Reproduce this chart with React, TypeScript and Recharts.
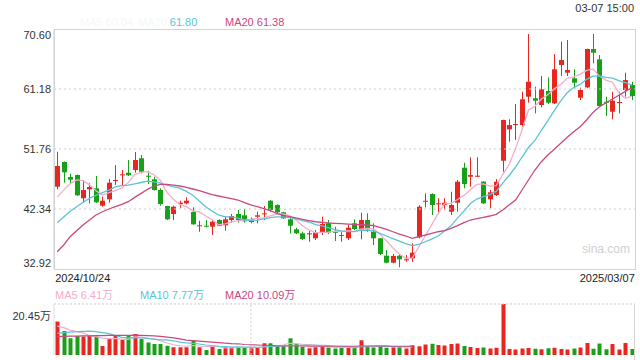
import React from "react";
import { ComposedChart, Bar, Line, XAxis, YAxis, ReferenceLine } from "recharts";

const RED = "#e8261f";
const GREEN = "#18a018";
const C_MA5 = "#f4abcd";
const C_MA10 = "#5cc3d7";
const C_MA20 = "#c9487f";
const FONT = "'Liberation Sans', Arial, 'Noto Sans CJK SC', sans-serif";

const priceTicks = [32.92, 42.34, 51.76, 61.18, 70.6];
const volTicks = [0, 20.45];
const xLabels = ["2024/10/24", "2025/03/07"];

const opens = [
  45.84, 49.72, 47.36, 47.67, 44.02, 45.43, 45.59, 42.86, 43.86, 46.73,
  47.67, 48.04, 48.46, 50.3, 47.57, 47.0, 45.32, 42.81, 41.55, 43.12,
  43.23, 41.87, 39.62, 39.71, 39.56, 40.61, 39.78, 40.61, 41.55, 41.35,
  40.3, 41.13, 41.5, 43.64, 42.97, 41.82, 40.72, 39.15, 38.52, 38.36,
  37.74, 38.68, 40.09, 38.77, 38.25, 37.74, 40.09, 39.15, 40.61, 38.77,
  37.74, 35.01, 33.91, 35.01, 34.28, 34.6, 37.89, 43.55, 44.69, 43.12,
  42.99, 41.91, 43.33, 48.82, 47.41, 47.41, 46.63, 43.86, 44.54, 49.92,
  54.85, 55.52, 55.52, 59.97, 59.72, 58.67, 60.86, 58.93, 64.95, 63.74,
  62.86, 59.81, 61.44, 67.46, 65.84, 59.18, 57.61, 58.98, 61.02, 61.8,
];
const closes = [
  49.09, 48.1, 46.94, 44.49, 45.32, 45.79, 43.39, 43.64, 46.47, 46.89,
  47.78, 47.63, 50.03, 48.19, 47.41, 45.32, 43.12, 40.72, 42.7, 43.33,
  43.64, 39.93, 39.78, 39.56, 40.34, 39.71, 40.72, 41.24, 40.61, 40.41,
  40.72, 41.35, 41.66, 42.18, 41.82, 40.88, 39.71, 38.52, 37.63, 38.52,
  38.68, 39.98, 38.62, 38.62, 38.1, 39.4, 39.2, 40.61, 39.15, 37.74,
  35.27, 33.91, 34.96, 34.44, 34.44, 35.48, 42.7, 43.64, 42.97, 43.23,
  43.33, 42.97, 46.63, 46.26, 47.67, 47.57, 43.23, 44.96, 46.63, 56.31,
  55.52, 55.68, 59.56, 62.32, 59.34, 61.13, 59.03, 64.27, 65.73, 64.16,
  62.17, 61.02, 67.46, 66.88, 58.51, 59.03, 59.34, 59.14, 62.59, 60.08,
];
const highs = [
  51.33, 49.8, 47.88, 47.75, 46.89, 46.37, 47.52, 44.27, 47.05, 49.24,
  48.46, 50.03, 51.29, 50.81, 48.35, 47.41, 45.59, 42.85, 42.86, 43.64,
  44.17, 42.6, 40.5, 40.61, 40.61, 40.72, 41.24, 41.55, 42.18, 42.34,
  41.03, 41.91, 42.81, 43.75, 43.07, 41.91, 41.13, 39.4, 38.77, 38.88,
  39.04, 41.13, 40.61, 39.56, 38.77, 39.83, 40.72, 41.76, 41.66, 40.09,
  37.8, 35.9, 35.27, 35.27, 35.12, 36.95, 42.97, 44.8, 44.8, 44.02,
  44.02, 45.05, 46.89, 49.61, 50.45, 50.45, 46.7, 45.32, 47.05, 56.35,
  56.42, 58.82, 60.75, 69.81, 61.54, 63.22, 63.01, 66.67, 68.6, 68.87,
  64.27, 61.38, 67.5, 69.81, 66.52, 59.97, 60.75, 60.75, 63.74, 62.32,
];
const lows = [
  45.43, 46.47, 46.37, 44.4, 43.33, 43.23, 43.3, 42.7, 43.33, 46.1,
  45.95, 47.52, 48.04, 47.94, 46.26, 45.25, 42.86, 40.61, 40.61, 42.54,
  43.07, 39.88, 38.77, 39.46, 38.25, 39.65, 38.93, 40.19, 40.19, 40.19,
  40.09, 40.09, 40.61, 41.91, 41.66, 40.77, 38.52, 38.41, 37.47, 37.2,
  37.47, 38.25, 38.41, 37.31, 37.2, 37.47, 39.04, 37.58, 38.77, 36.68,
  35.12, 33.81, 33.81, 33.18, 34.06, 34.06, 37.74, 42.6, 41.4, 41.66,
  42.18, 41.4, 41.91, 45.59, 45.84, 47.35, 43.12, 42.45, 44.38, 48.19,
  52.9, 53.17, 55.26, 59.03, 57.36, 58.3, 58.82, 58.82, 63.22, 63.22,
  61.29, 59.45, 61.29, 65.21, 58.4, 56.94, 56.42, 57.36, 59.97, 59.45,
];

const ma5 = [
  44.2, 45.3, 46.3, 46.9, 46.79, 46.13, 45.19, 44.53, 44.92, 45.24,
  45.63, 46.48, 47.76, 48.1, 48.21, 47.72, 46.81, 44.95, 43.85, 43.04,
  42.7, 42.06, 41.88, 41.25, 40.65, 39.86, 40.02, 40.31, 40.52, 40.54,
  40.74, 40.87, 40.95, 41.26, 41.55, 41.58, 41.25, 40.62, 39.71, 39.05,
  38.61, 38.67, 38.69, 38.88, 38.8, 38.94, 38.79, 39.19, 39.29, 39.22,
  38.39, 37.34, 36.21, 35.26, 34.6, 34.65, 36.4, 38.14, 39.85, 41.6,
  43.17, 43.23, 43.83, 44.48, 45.37, 46.22, 46.27, 45.94, 46.01, 47.74,
  49.33, 51.82, 54.74, 57.88, 58.48, 59.61, 60.28, 61.22, 61.9, 62.86,
  63.07, 63.47, 64.11, 64.34, 63.21, 62.58, 62.24, 60.58, 59.72, 60.04,
];
const ma10 = [
  40.19, 41.1, 42.0, 42.7, 43.4, 44.0, 44.5, 44.9, 45.3, 45.8,
  46.0, 46.1, 46.3, 46.5, 46.7, 46.6, 46.4, 46.1, 45.8, 45.6,
  45.1, 44.5, 43.6, 42.7, 42.0, 41.4, 41.1, 41.1, 40.9, 40.6,
  40.5, 40.6, 40.8, 41.0, 41.1, 41.1, 41.0, 40.8, 40.5, 40.3,
  39.9, 39.7, 39.4, 39.1, 38.9, 38.8, 38.8, 39.0, 39.0, 38.9,
  38.5, 38.1, 37.7, 37.3, 36.9, 36.6, 36.8, 37.2, 37.6, 38.1,
  38.9, 39.7, 40.9, 42.0, 43.2, 43.9, 44.3, 44.6, 45.1, 46.4,
  47.6, 48.9, 50.5, 52.0, 53.1, 54.7, 56.2, 57.8, 59.3, 60.6,
  61.4, 61.9, 62.7, 63.2, 63.2, 63.0, 62.9, 62.5, 62.2, 61.8,
];
const ma20 = [
  35.63, 36.69, 37.99, 38.93, 39.83, 40.61, 41.4, 41.91, 42.34, 42.7,
  43.07, 43.49, 44.17, 44.8, 45.43, 45.95, 46.21, 46.21, 46.1, 45.95,
  45.74, 45.48, 45.22, 44.9, 44.59, 44.38, 44.17, 43.96, 43.75, 43.33,
  42.97, 42.7, 42.39, 42.07, 41.66, 41.35, 41.13, 40.93, 40.72, 40.5,
  40.34, 40.25, 40.14, 40.09, 40.03, 39.98, 39.93, 39.87, 39.83, 39.72,
  39.46, 39.15, 38.77, 38.41, 38.1, 37.74, 37.99, 38.25, 38.52, 38.77,
  38.93, 39.31, 39.72, 40.19, 40.61, 40.82, 41.03, 41.24, 41.5, 42.18,
  42.97, 43.75, 45.32, 46.89, 48.46, 49.77, 50.81, 51.71, 52.65, 53.59,
  54.47, 55.26, 56.31, 57.5, 58.4, 59.0, 59.6, 60.2, 60.8, 61.38,
];

// volume, in 万
const volumes = [
  13.4, 9.6, 6.7, 7.6, 7.4, 7.8, 7.4, 3.6, 6.7, 7.8,
  6.0, 7.6, 8.4, 6.4, 5.0, 4.4, 4.4, 3.7, 3.1, 3.1,
  3.1, 5.8, 3.1, 2.0, 3.3, 2.4, 3.1, 3.1, 3.1, 3.1,
  2.7, 3.1, 4.7, 4.7, 3.6, 3.7, 6.7, 4.4, 3.3, 2.7,
  3.1, 3.4, 3.0, 2.6, 2.8, 3.2, 3.0, 5.9, 3.4, 3.0,
  3.6, 2.9, 3.1, 3.3, 2.6, 3.9, 3.5, 4.2, 4.5, 4.0,
  3.8, 4.4, 4.6, 3.6, 3.2, 2.8, 3.0, 2.6, 2.9, 20.45,
  2.4, 2.2, 2.6, 2.8, 2.5, 2.3, 2.7, 2.9, 2.4, 2.2,
  2.6, 3.0, 4.8, 2.5, 4.6, 2.3, 4.4, 2.2, 4.8, 2.4,
];
const vma5 = [
  11.6, 11.0, 10.0, 9.4, 8.9, 7.8, 7.4, 6.8, 6.6, 6.7,
  6.3, 6.3, 7.3, 7.2, 6.7, 6.4, 5.7, 4.8, 4.1, 3.7,
  3.5, 3.8, 3.6, 3.4, 3.5, 3.3, 2.8, 2.8, 3.0, 3.0,
  3.0, 3.0, 3.3, 3.7, 3.8, 4.0, 4.7, 4.6, 4.3, 4.2,
  4.0, 3.5, 3.3, 3.0, 3.0, 3.0, 2.9, 3.5, 3.5, 3.7,
  3.8, 3.8, 3.2, 3.2, 3.1, 3.2,
];
const vma10 = [
  8.7, 9.0, 9.2, 9.4, 9.5, 9.6, 9.4, 9.0, 8.6, 7.8,
  7.1, 6.9, 7.0, 6.9, 6.7, 6.4, 6.1, 6.1, 5.7, 5.2,
  4.9, 4.7, 4.4, 4.0, 3.8, 3.5, 3.4, 3.2, 3.3, 3.2,
  3.2, 3.1, 3.2, 3.4, 3.4, 3.5, 3.8, 3.9, 3.9, 3.9,
  3.9, 3.9, 3.8, 3.6, 3.5, 3.4, 3.1, 3.3, 3.3, 3.3,
  3.4, 3.4, 3.4, 3.4, 3.4, 3.5,
];
const vma20 = [
  7.4, 7.5, 7.6, 7.6, 7.7, 7.7, 7.8, 7.8, 7.9, 7.9,
  7.9, 7.9, 8.0, 7.9, 7.8, 7.7, 7.5, 7.2, 6.9, 6.5,
  6.0, 5.8, 5.6, 5.4, 5.2, 5.0, 4.8, 4.6, 4.5, 4.2,
  4.1, 4.0, 3.9, 3.8, 3.7, 3.6, 3.6, 3.6, 3.6, 3.5,
  3.5, 3.5, 3.5, 3.5, 3.5, 3.5, 3.5, 3.6, 3.6, 3.6,
  3.6, 3.6, 3.5, 3.5, 3.5, 3.5,
];

const data = opens.map((o, i) => ({
  i,
  open: o,
  close: closes[i],
  high: highs[i],
  low: lows[i],
  range: [lows[i], highs[i]],
  ma5: ma5[i],
  ma10: ma10[i],
  ma20: ma20[i],
  vol: volumes[i],
  vma5: vma5[i] ?? null,
  vma10: vma10[i] ?? null,
  vma20: vma20[i] ?? null,
}));

function Candle(props: any) {
  const { x, y, width, height, payload } = props;
  if (!payload) return null;
  const { open, close, high, low } = payload;
  const top = Math.min(y, y + height);
  const h = Math.abs(height);
  const k = high === low ? 0 : h / (high - low);
  const yO = top + (high - open) * k;
  const yC = top + (high - close) * k;
  const color = close >= open ? RED : GREEN;
  const cx = Math.round(x + width / 2) + 0.5;
  const bTop = Math.min(yO, yC);
  const bH = Math.max(Math.abs(yO - yC), 1);
  return (
    <g>
      <line x1={cx} x2={cx} y1={top} y2={top + h} stroke={color} strokeWidth={1} />
      <rect x={cx - 2.5} y={bTop} width={5} height={bH} fill={color} />
    </g>
  );
}

function VolBar(props: any) {
  const { x, y, width, height, payload } = props;
  if (!payload) return null;
  const color = payload.close >= payload.open ? RED : GREEN;
  const cx = Math.round(x + width / 2) + 0.5;
  return <rect x={cx - 2} y={Math.min(y, y + height)} width={4} height={Math.abs(height)} fill={color} />;
}

function PriceTick(props: any) {
  const { y, payload } = props;
  const v = payload.value;
  let dy = 4;
  if (v === priceTicks[priceTicks.length - 1]) dy = 10;
  if (v === priceTicks[0]) dy = -2;
  return (
    <text x={51} y={y + dy} textAnchor="end" fontSize={11} fill="#333" fontFamily={FONT}>
      {v.toFixed(2)}
    </text>
  );
}

function VolTick(props: any) {
  const { y, payload } = props;
  const v = payload.value;
  const top = v === volTicks[1];
  return (
    <text x={51} y={y + (top ? 11 : -2)} textAnchor="end" fontSize={11} fill="#333" fontFamily={FONT}>
      {top ? `${v}万` : "0"}
    </text>
  );
}

function DateTick(props: any) {
  const { x, payload } = props;
  const first = payload.value === 0;
  return (
    <text x={first ? x - 2 : x + 3} y={282} textAnchor={first ? "start" : "end"} fontSize={11} fill="#222" fontFamily={FONT}>
      {first ? xLabels[0] : xLabels[1]}
    </text>
  );
}

const abs = (left: number, top: number, extra: React.CSSProperties = {}): React.CSSProperties => ({
  position: "absolute",
  left,
  top,
  fontSize: 11,
  lineHeight: "12px",
  whiteSpace: "nowrap",
  ...extra,
});

export default function App() {
  return (
    <div style={{ position: "absolute", left: 0, top: 0, width: 640, height: 360, overflow: "hidden", background: "#fff", fontFamily: FONT }}>
      <div style={{ position: "absolute", left: 0, top: 0 }}>
        <ComposedChart width={640} height={290} data={data} margin={{ top: 29, right: 5, bottom: 0, left: 0 }}>
          <XAxis dataKey="i" type="category" ticks={[0, 89]} interval={0} height={21} axisLine={false} tickLine={false} tick={<DateTick />} />
          <YAxis
            domain={[priceTicks[0], priceTicks[4]]}
            ticks={priceTicks}
            width={54}
            axisLine={{ stroke: "#cfcfcf" }}
            tickLine={false}
            tick={<PriceTick />}
            allowDataOverflow
          />
          {priceTicks.slice(1, 4).map((t) => (
            <ReferenceLine key={t} y={t} stroke="#cccccc" strokeDasharray="2 3" />
          ))}
          <Bar dataKey="range" shape={<Candle />} isAnimationActive={false} />
          <Line dataKey="ma5" stroke={C_MA5} strokeWidth={1.3} dot={false} isAnimationActive={false} />
          <Line dataKey="ma10" stroke={C_MA10} strokeWidth={1.3} dot={false} isAnimationActive={false} />
          <Line dataKey="ma20" stroke={C_MA20} strokeWidth={1.3} dot={false} isAnimationActive={false} />
        </ComposedChart>
      </div>
      <div style={{ position: "absolute", left: 54, top: 29, width: 582, height: 241, boxSizing: "border-box", border: "1px solid #d4d4d4", pointerEvents: "none" }} />

      <div style={{ position: "absolute", left: 0, top: 300 }}>
        <ComposedChart width={640} height={60} data={data} margin={{ top: 4, right: 5, bottom: 5, left: 0 }}>
          <XAxis dataKey="i" type="category" hide />
          <YAxis domain={[0, volTicks[1]]} ticks={volTicks} width={54} axisLine={{ stroke: "#dcdcdc" }} tickLine={false} tick={<VolTick />} allowDataOverflow />
          <ReferenceLine y={volTicks[1]} stroke="#c8c8c8" strokeDasharray="2 2" />
          <ReferenceLine x={30} stroke="#d0d0d0" strokeDasharray="2 2" />
          <Bar dataKey="vol" shape={<VolBar />} isAnimationActive={false} />
          <Line dataKey="vma5" stroke={C_MA5} strokeWidth={1.2} dot={false} isAnimationActive={false} />
          <Line dataKey="vma10" stroke={C_MA10} strokeWidth={1.2} dot={false} isAnimationActive={false} />
          <Line dataKey="vma20" stroke={C_MA20} strokeWidth={1.2} dot={false} isAnimationActive={false} />
        </ComposedChart>
      </div>
      <div style={{ position: "absolute", left: 634, top: 304, width: 1, height: 56, background: "#d4d4d4" }} />

      <div style={{ position: "absolute", right: 6, top: 2, fontSize: 11, lineHeight: "12px", color: "#333", whiteSpace: "nowrap" }}>03-07 15:00</div>
      <div style={abs(80, 16, { color: "#faf5f7" })}>MA5 60.04</div>
      <div style={abs(138, 16, { color: C_MA10 })}>
        <span style={{ color: "#f1f9fb" }}>MA10 </span>61.80
      </div>
      <div style={abs(225, 16, { color: C_MA20 })}>MA20 61.38</div>
      <div style={abs(582, 243, { color: "#cfcfcf", fontSize: 12, lineHeight: "13px" })}>sina.com</div>

      <div style={abs(55, 289, { color: C_MA5 })}>MA5 6.41万</div>
      <div style={abs(140, 289, { color: C_MA10 })}>MA10 7.77万</div>
      <div style={abs(225, 289, { color: C_MA20 })}>MA20 10.09万</div>
    </div>
  );
}
